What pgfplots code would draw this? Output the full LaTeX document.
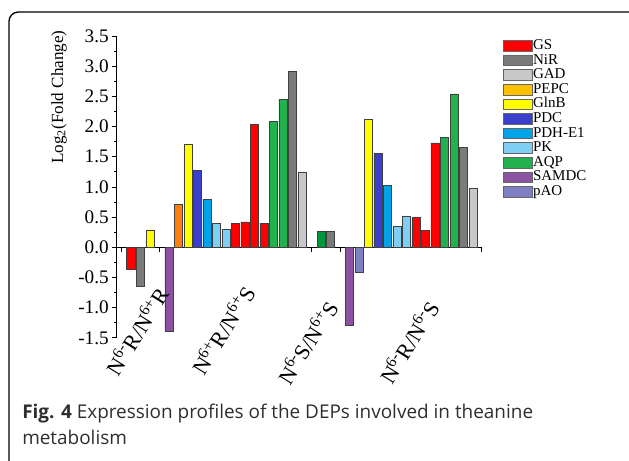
\documentclass[border=0pt]{standalone}
\usepackage{fontspec}
\setmainfont{Liberation Serif}
\newfontfamily\capfont{Open Sans}
\usepackage{pgfplots}
\pgfplotsset{compat=1.18}

\definecolor{cGS}{HTML}{FF0000}
\definecolor{cNiR}{HTML}{7A7A7A}
\definecolor{cGAD}{HTML}{C8C8C8}
\definecolor{cPEPC}{HTML}{FFC000}
\definecolor{cPEPCbar}{HTML}{FF7F0E}
\definecolor{cGlnB}{HTML}{FFFF00}
\definecolor{cPDC}{HTML}{3B40CC}
\definecolor{cPDH}{HTML}{00A2E8}
\definecolor{cPK}{HTML}{7FCFF5}
\definecolor{cAQP}{HTML}{22B14C}
\definecolor{cAQPd}{HTML}{00963C}
\definecolor{cSAMDC}{HTML}{8A52A0}
\definecolor{cpAO}{HTML}{7F80C4}

\begin{document}
\begin{tikzpicture}
\begin{scope}[x=0.75pt,y=-0.75pt]
  \useasboundingbox (0,0) rectangle (629,461);
  \draw[line width=1pt, rounded corners=7pt] (9,12) rectangle (660,485);
\end{scope}

\begin{axis}[
  at={(87.5pt,-253.4pt)}, anchor=south west,
  scale only axis, width=273.75pt, height=226.4pt,
  xmin=-1.5, xmax=36.9, ymin=-1.5, ymax=3.5,
  axis x line*=middle, axis y line*=left,
  axis line style={-, line width=0.6pt},
  hide obscured x ticks=false, hide obscured y ticks=false,
  xtick=\empty,
  ytick={-1.5,-1,-0.5,0,0.5,1,1.5,2,2.5,3,3.5},
  minor ytick={-1.25,-0.75,-0.25,0.25,0.75,1.25,1.75,2.25,2.75,3.25},
  tick align=outside,
  major tick length=3.75pt, minor tick length=2pt,
  tick style={line width=0.6pt, black},
  yticklabel style={font=\fontsize{14.4}{15}\selectfont, inner sep=2pt,
    /pgf/number format/.cd, fixed, fixed zerofill, precision=1, assume math mode=true},
  every axis plot/.append style={ybar, bar width=6.15pt, bar shift=0pt,
    draw=black!75, line width=0.5pt},
  clip=false,
  legend cell align=left,
  legend image code/.code={\draw[#1, draw=black!60, line width=0.4pt] (0pt,-4pt) rectangle (22pt,4pt);},
  legend style={at={(1.0564,0.9917)}, anchor=north west, draw=none, fill=none,
    inner sep=0pt, row sep=0.45pt, font=\fontsize{11.25}{12}\selectfont,
    nodes={inner sep=0.5pt, text height=7.5pt, text depth=2pt, anchor=west}},
]
% bars per protein, x = slot index along the axis
\addplot[fill=cGS, forget plot] coordinates {(0,-0.36) (11,0.40) (12,0.42) (13,2.04) (14,0.40) (30,0.49) (31,0.28) (32,1.73)};
\addplot[fill=cNiR, forget plot] coordinates {(1,-0.64) (17,2.92) (21,0.27) (35,1.66)};
\addplot[fill=cGAD, forget plot] coordinates {(18,1.25) (36,0.97)};
\addplot[fill=cPEPCbar, forget plot] coordinates {(5,0.71)};
\addplot[fill=cGlnB, forget plot] coordinates {(2,0.28) (6,1.71) (25,2.12)};
\addplot[fill=cPDC, forget plot] coordinates {(7,1.27) (26,1.55)};
\addplot[fill=cPDH, forget plot] coordinates {(8,0.80) (27,1.02)};
\addplot[fill=cPK, forget plot] coordinates {(9,0.39) (10,0.30) (28,0.34) (29,0.52)};
\addplot[fill=cAQP, forget plot] coordinates {(15,2.09) (16,2.45) (33,1.82) (34,2.54)};
\addplot[fill=cAQPd, forget plot] coordinates {(20,0.27)};
\addplot[fill=cSAMDC, forget plot] coordinates {(4,-1.39) (23,-1.30)};
\addplot[fill=cpAO, forget plot] coordinates {(24,-0.42)};

% group separators on the x axis
\pgfplotsinvokeforeach{-1,3,19,22,36.9}{
  \draw[line width=0.6pt] (axis cs:#1,0) -- ++(0pt,-3.75pt);
}

\addlegendimage{fill=cGS}\addlegendentry{GS}
\addlegendimage{fill=cNiR}\addlegendentry{NiR}
\addlegendimage{fill=cGAD}\addlegendentry{GAD}
\addlegendimage{fill=cPEPC}\addlegendentry{PEPC}
\addlegendimage{fill=cGlnB}\addlegendentry{GlnB}
\addlegendimage{fill=cPDC}\addlegendentry{PDC}
\addlegendimage{fill=cPDH}\addlegendentry{PDH-E1}
\addlegendimage{fill=cPK}\addlegendentry{PK}
\addlegendimage{fill=cAQP}\addlegendentry{AQP}
\addlegendimage{fill=cSAMDC}\addlegendentry{SAMDC}
\addlegendimage{fill=cpAO}\addlegendentry{pAO}
\end{axis}

\begin{scope}[x=0.75pt,y=-0.75pt]
  \node[rotate=90, font=\fontsize{12.8}{14}\selectfont] at (59,97) {Log\textsubscript{2}(Fold Change)};
  \begin{scope}[every node/.style={rotate=58, anchor=east, inner sep=0pt, font=\fontsize{16.5}{18}\selectfont}]
    \node at (163,289) {N\textsuperscript{6-}R/N\textsuperscript{6+}R};
    \node at (249,288) {N\textsuperscript{6+}R/N\textsuperscript{6+}S};
    \node at (332,303) {N\textsuperscript{6-}S/N\textsuperscript{6+}S};
    \node at (433,303) {N\textsuperscript{6-}R/N\textsuperscript{6-}S};
  \end{scope}
  \begin{scope}[every node/.style={anchor=base west, inner sep=0pt, text=black!82, font=\capfont\fontsize{14.2}{16}\selectfont}]
    \node at (22,418) {{\bfseries Fig. 4} Expression profiles of the DEPs involved in theanine};
    \node at (22,444) {metabolism};
  \end{scope}
  \pgfresetboundingbox
  \path[use as bounding box] (0,0) rectangle (629,461);
\end{scope}
\end{tikzpicture}
\end{document}
